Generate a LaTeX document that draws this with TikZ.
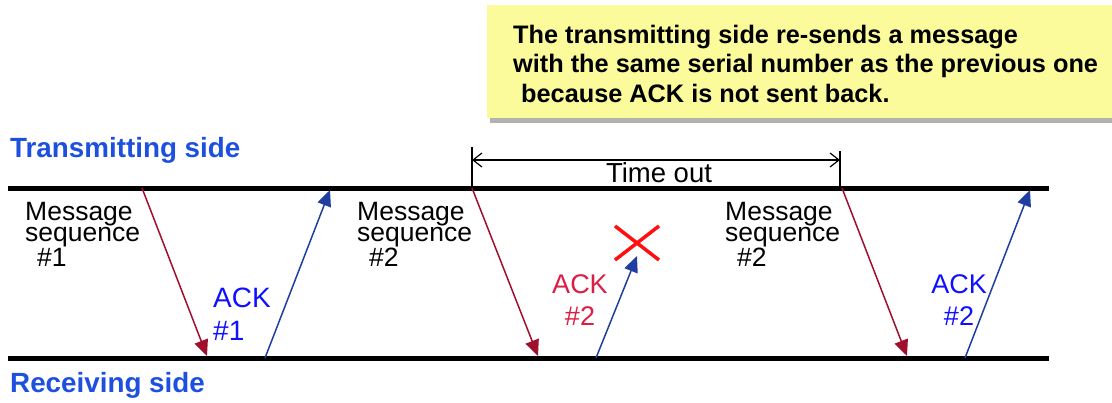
\documentclass[tikz,border=0pt]{standalone}
\usepackage{fontspec}
\setmainfont{Liberation Sans}
\usetikzlibrary{arrows.meta}
\definecolor{msgred}{HTML}{A0102C}
\definecolor{ackblue}{HTML}{1F3FA0}
\definecolor{lblblue}{HTML}{1E50E0}
\definecolor{txtblue}{HTML}{1010FF}
\definecolor{txtred}{HTML}{DC1E46}
\definecolor{xred}{HTML}{FF1010}
\definecolor{noteyel}{HTML}{FBFB9C}
\tikzset{
  timeline/.style={line width=5pt},
  msgarrow/.style={draw=msgred,line width=1.5pt,-{Triangle[length=16pt,width=14pt]},fill=msgred,shorten >=0pt},
  ackarrow/.style={draw=ackblue,line width=1.5pt,-{Triangle[length=16pt,width=14pt]}},
  sidelabel/.style={text=lblblue,font=\bfseries\fontsize{27.8}{28}\selectfont,anchor=base west,inner sep=0pt},
  msglabel/.style={font=\fontsize{26.5}{20.5}\selectfont,align=left,anchor=base west,inner sep=0pt},
  acklabel/.style={font=\fontsize{27}{32}\selectfont,align=center,anchor=base,inner sep=0pt},
  notetext/.style={font=\bfseries\fontsize{25.3}{29.5}\selectfont,align=left,anchor=base west,inner sep=0pt},
}
\begin{document}
\begin{tikzpicture}[x=1pt,y=-1pt]
\useasboundingbox (0,0) rectangle (1112,402);
% note box
\fill[gray!60] (490,10) rectangle (1112,123);
\fill[noteyel] (487,5) rectangle (1112,118);
\node[notetext] (note) at (513,102) {The transmitting side re-sends a message\\with the same serial number as the previous one\\\hspace*{8pt}because ACK is not sent back.};
% side labels
\node[sidelabel] (tx) at (10,157) {Transmitting side};
\node[sidelabel] (rx) at (10,392) {Receiving side};
% time lines
\coordinate (tl) at (8,188); \coordinate (tr) at (1049,188);
\coordinate (bl) at (8,358); \coordinate (br) at (1049,358);
\draw[timeline] (tl) -- (tr);
\draw[timeline] (bl) -- (br);
% arrow end points
\coordinate (m1s) at (142,188); \coordinate (m1e) at (207,356);
\coordinate (a1s) at (265,358); \coordinate (a1e) at (330,190);
\coordinate (m2s) at (472,188); \coordinate (m2e) at (538,356);
\coordinate (a2s) at (596,358); \coordinate (a2e) at (637,256);
\coordinate (m3s) at (842,188); \coordinate (m3e) at (907,356);
\coordinate (a3s) at (965,358); \coordinate (a3e) at (1030,190);
\draw[msgarrow] (m1s) -- (m1e);
\draw[ackarrow] (a1s) -- (a1e);
\draw[msgarrow] (m2s) -- (m2e);
\draw[ackarrow] (a2s) -- (a2e);
\draw[msgarrow] (m3s) -- (m3e);
\draw[ackarrow] (a3s) -- (a3e);
% lost mark
\coordinate (xc) at (637,243);
\draw[xred,line width=3.5pt] (615,226) -- (659,260) (615,260) -- (659,226);
% time out
\coordinate (to1t) at (472,147); \coordinate (to1b) at (472,188);
\coordinate (to2t) at (840,151); \coordinate (to2b) at (840,188);
\draw[line width=1.2pt] (to1t) -- (to1b);
\draw[line width=1.2pt] (to2t) -- (to2b);
\coordinate (toa) at (472,160); \coordinate (tob) at (840,160);
\draw[line width=1.2pt,{Straight Barb[length=9pt,width=14pt]}-{Straight Barb[length=9pt,width=14pt]}] (toa) -- (tob);
\node[font=\fontsize{27.5}{27}\selectfont,anchor=base,inner sep=0pt] (tolbl) at (659,182) {Time out};
% message labels
\node[msglabel] (msg1) at (25,266) {Message\\sequence\\\hspace*{12pt}\#1};
\node[msglabel] (msg2) at (357,266) {Message\\sequence\\\hspace*{12pt}\#2};
\node[msglabel] (msg3) at (725,266) {Message\\sequence\\\hspace*{12pt}\#2};
% ack labels
\node[font=\fontsize{28}{33}\selectfont,align=left,anchor=base west,inner sep=0pt,text=txtblue] (ack1) at (213,340) {ACK\\\#1};
\node[acklabel,text=txtred] (ack2) at (580,325) {ACK\\\#2};
\node[acklabel,text=txtblue] (ack3) at (959,325) {ACK\\\#2};
\end{tikzpicture}
\end{document}
